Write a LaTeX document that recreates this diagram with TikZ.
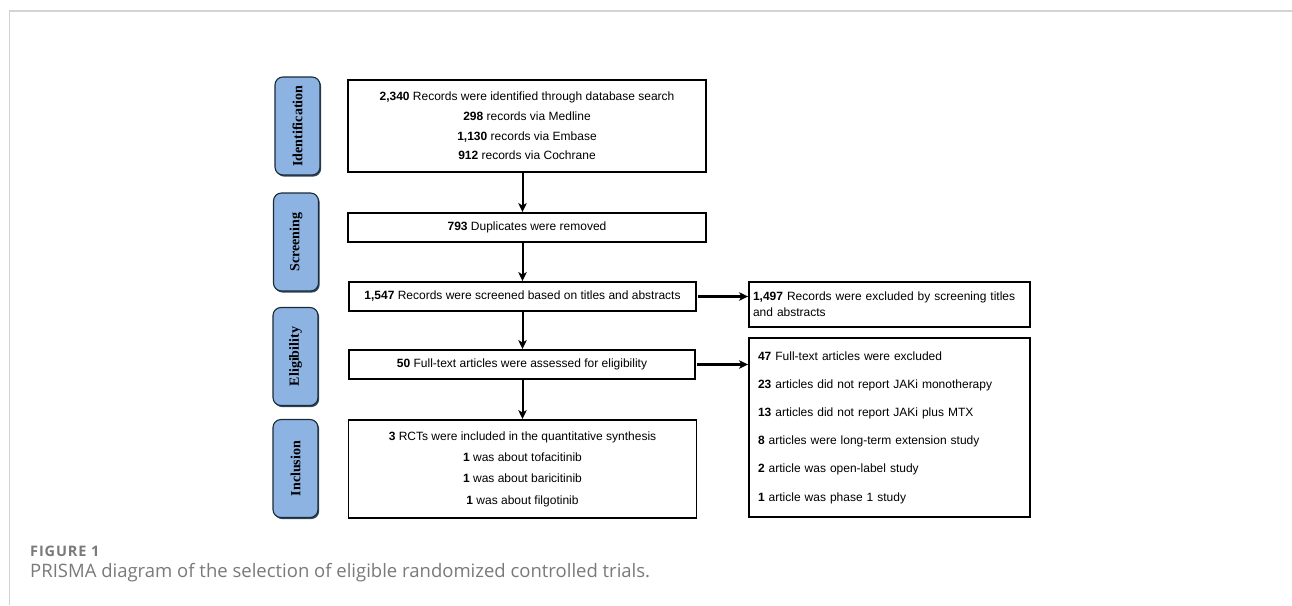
\documentclass[tikz,border=0pt]{standalone}
\usepackage{fontspec}
\setmainfont{Liberation Sans}
\newfontfamily\sidefont{Liberation Serif}
\newfontfamily\capfont{Open Sans}
\newfontfamily\figfont[LetterSpace=6]{Open Sans}
\usetikzlibrary{arrows.meta,shadows}
\definecolor{framegray}{HTML}{D3D3D3}
\definecolor{sideblue}{HTML}{8DB3E2}
\definecolor{sideedge}{HTML}{1B2A38}
\definecolor{shadowcol}{HTML}{2E4A5C}
\definecolor{capgray}{HTML}{7A7A7A}
\tikzset{
  sidebox/.style={rounded corners=8pt, fill=sideblue, draw=sideedge, line width=1.1pt,
    minimum width=45pt, minimum height=98pt, inner sep=0pt,
    drop shadow={shadow xshift=1.2pt, shadow yshift=-1.6pt, fill=shadowcol, opacity=1}},
  sidelabel/.style={rotate=90, font=\sidefont\bfseries\fontsize{14}{16}\selectfont, inner sep=0pt},
  mainbox/.style={draw=black, line width=1.9pt, align=center, inner sep=0pt,
    font=\fontsize{12}{19.7}\selectfont},
  sidenote/.style={draw=black, line width=1.9pt, align=left, inner ysep=0pt},
  varrow/.style={line width=2pt, -{Stealth[length=9pt,width=8.5pt,inset=2.5pt]}},
  harrow/.style={line width=2.4pt, -{Stealth[length=9pt,width=8.5pt,inset=2.5pt]}, shorten <=1.5pt}
}
\begin{document}
\begin{tikzpicture}[x=1pt,y=-1pt]
\useasboundingbox (0,0) rectangle (1292,605);
\fill[white] (0,0) rectangle (1292,605);
\draw[framegray, line width=1.5pt] (9.5,605) -- (9.5,11) -- (1292,11);

% side stage boxes
\node[sidebox] (sid) at (297.5,126) {};
\node[sidelabel] (lid) at (sid.center) {Identification};
\node[sidebox] (ssc) at (296,242) {};
\node[sidelabel] (lsc) at (ssc.center) {Screening};
\node[sidebox] (sel) at (295.5,356.5) {};
\node[sidelabel] (lel) at (sel.center) {Eligibility};
\node[sidebox] (sin) at (295.5,468.5) {};
\node[sidelabel] (lin) at (sin.center) {Inclusion};

% main flow boxes
\node[mainbox, minimum width=358pt, minimum height=92pt] (b1) at (527,126)
  {\textbf{2,340} Records were identified through database search\\
   \textbf{298} records via Medline\\
   \textbf{1,130} records via Embase\\
   \textbf{912} records via Cochrane};
\node[mainbox, minimum width=358pt, minimum height=29pt] (b2) at (527,227.5)
  {\textbf{793} Duplicates were removed};
\node[mainbox, minimum width=347pt, minimum height=29pt] (b3) at (522.5,296.5)
  {\textbf{1,547} Records were screened based on titles and abstracts};
\node[mainbox, minimum width=346pt, minimum height=29pt] (b4) at (522,364.5)
  {\textbf{50} Full-text articles were assessed for eligibility};
\node[mainbox, minimum width=348pt, minimum height=98pt, font=\fontsize{12}{21.3}\selectfont] (b5) at (522.5,469)
  {\textbf{3} RCTs were included in the quantitative synthesis\\
   \textbf{1} was about tofacitinib\\
   \textbf{1} was about baricitinib\\
   \textbf{1} was about filgotinib};

% exclusion boxes
\node[sidenote, inner xsep=4pt, text width=273pt, minimum height=45pt, font=\fontsize{12}{16}\selectfont] (ea) at (889.5,304.5)
  {\textbf{1,497} Records were excluded by screening titles\\and abstracts};
\node[sidenote, inner xsep=9pt, text width=263pt, minimum height=179pt, font=\fontsize{12}{28.2}\selectfont] (eb) at (889.5,427.5)
  {\textbf{47} Full-text articles were excluded\\
   \textbf{23} articles did not report JAKi monotherapy\\
   \textbf{13} articles did not report JAKi plus MTX\\
   \textbf{8} articles were long-term extension study\\
   \textbf{2} article was open-label study\\
   \textbf{1} article was phase 1 study};

% arrows
\draw[varrow] (b1.south -| b5.north) -- (b2.north -| b5.north);
\draw[varrow] (b2.south -| b5.north) -- (b3.north -| b5.north);
\draw[varrow] (b3.south -| b5.north) -- (b4.north -| b5.north);
\draw[varrow] (b4.south -| b5.north) -- (b5.north);
\draw[harrow] (b3.east) -- (b3.east -| ea.west);
\draw[harrow] (b4.east) -- (b4.east -| eb.west);

% caption
\node[anchor=base west, inner sep=0pt, text=capgray, font=\figfont\bfseries\fontsize{14.5}{16}\selectfont] (fig) at (30,556) {FIGURE 1};
\node[anchor=base west, inner sep=0pt, text=capgray, font=\capfont\fontsize{18.5}{22}\selectfont] (cap) at (30,577) {PRISMA diagram of the selection of eligible randomized controlled trials.};
\end{tikzpicture}
\end{document}
